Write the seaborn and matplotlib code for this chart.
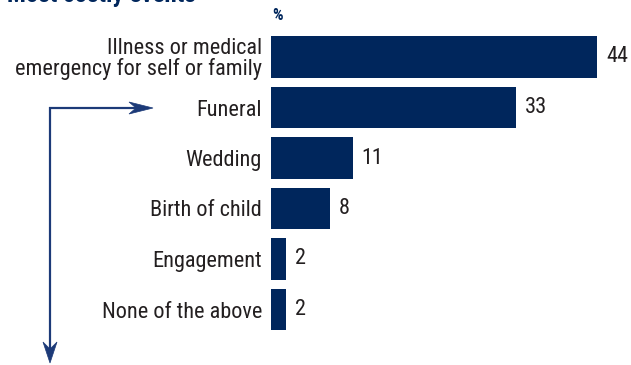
import matplotlib
matplotlib.use("Agg")
import matplotlib.pyplot as plt
from matplotlib.patches import Polygon
from matplotlib.lines import Line2D
import numpy as np
import seaborn as sns
import pandas as pd

categories = [
    "Illness or medical\nemergency for self or family",
    "Funeral",
    "Wedding",
    "Birth of child",
    "Engagement",
    "None of the above",
]
values = [44, 33, 11, 8, 2, 2]
title = "Most costly events"
unit = "%"

NAVY = "#00265C"
ARROW = "#1C3A78"
TEXT = "#231F20"

sns.set_theme(style="white")
plt.rcParams["font.family"] = ["Roboto Condensed", "Archivo Narrow", "Liberation Sans", "DejaVu Sans"]

df = pd.DataFrame({"event": categories, "pct": values})

fig = plt.figure(figsize=(6.31, 3.65), dpi=100)
W, H = 631, 365
left_px, right_px = 271, 631
top_px, bot_px = 31.75, 334.75
ax = fig.add_axes([left_px / W, 1 - bot_px / H, (right_px - left_px) / W, (bot_px - top_px) / H])

sns.barplot(data=df, x="pct", y="event", color=NAVY, saturation=1, width=0.83, ax=ax,
            linewidth=0)
ax.set_xlim(0, (right_px - left_px) / 7.41)
ax.set_ylim(5.5, -0.5)
for s in ax.spines.values():
    s.set_visible(False)
ax.set_xticks([])
ax.set_xlabel("")
ax.set_ylabel("")
ax.tick_params(axis="y", length=0, pad=6.5, labelsize=16, labelcolor=TEXT)
for lab in ax.get_yticklabels():
    lab.set_linespacing(0.95)

for i, v in enumerate(values):
    ax.text(v + 1.2, i, f"{v}", va="center", ha="left", fontsize=16, color=TEXT)

fig.text(7 / W, 1 - 2 / H, title, fontsize=18, fontweight="bold", color=NAVY,
         ha="left", va="baseline")
fig.text(272 / W, 1 - 20 / H, unit, fontsize=12, fontweight="bold", color=NAVY,
         ha="left", va="baseline")


def px(x, y):
    """Top-left pixel coordinates to figure fraction."""
    return (x / W, 1 - y / H)


def stealth_arrow(start, tip, length=21, half_width=6.5, notch=7, lw=2.2):
    s = np.array(start, float)
    t = np.array(tip, float)
    d = (t - s) / np.linalg.norm(t - s)
    p = np.array([-d[1], d[0]])
    base = t - d * length
    inner = t - d * (length - notch)
    fig.add_artist(Line2D(*zip(px(*s), px(*inner)), transform=fig.transFigure,
                          color=ARROW, lw=lw * 0.72, solid_capstyle="butt"))
    pts = [t, base + p * half_width, inner, base - p * half_width]
    fig.add_artist(Polygon([px(*q) for q in pts], closed=True, transform=fig.transFigure,
                           facecolor=ARROW, edgecolor=ARROW, lw=0.5))


# elbow connector: a shared corner with one arrow down and one arrow right
corner = (50, 108)
stealth_arrow((corner[0], corner[1] - 1), (50, 363), length=21, half_width=7, notch=7)
stealth_arrow((corner[0] - 1, corner[1]), (153, 108), length=24, half_width=6, notch=7)

fig.savefig("out.png", dpi=100)
